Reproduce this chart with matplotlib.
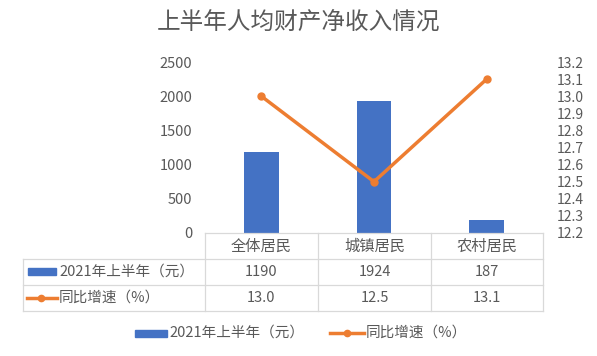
import matplotlib
matplotlib.use("Agg")
import matplotlib.pyplot as plt
from matplotlib.lines import Line2D
from matplotlib.patches import Rectangle

plt.rcParams['font.family'] = ['Noto Sans CJK SC', 'DejaVu Sans']

categories = ["全体居民", "城镇居民", "农村居民"]
income = [1190, 1924, 187]
growth = [13.0, 12.5, 13.1]
income_name = "2021年上半年（元）"
growth_name = "同比增速（%）"
title = "上半年人均财产净收入情况"

blue = "#4472c4"
orange = "#ed7d31"
gray = "#595959"
grid = "#d9d9d9"

W, H = 597, 356
fig = plt.figure(figsize=(W / 100, H / 100), dpi=100)

# plot area in pixel coords
x0, x1, ytop, ybot = 205, 543, 62, 233
ax = fig.add_axes([x0 / W, 1 - ybot / H, (x1 - x0) / W, (ybot - ytop) / H])
xs = list(range(len(categories)))
ax.bar(xs, income, width=0.31, color=blue, zorder=2)
ax.set_xlim(-0.5, len(categories) - 0.5)
ax.set_ylim(0, 2500)
ax.set_yticks(range(0, 2501, 500))
ax.set_xticks([])
for s in ax.spines.values():
    s.set_visible(False)
ax.tick_params(axis='y', length=0, labelsize=10.5, colors=gray, pad=9)

ax2 = ax.twinx()
ax2.plot(xs, growth, color=orange, lw=2.5, marker='o', ms=5, zorder=3)
ax2.set_ylim(12.2, 13.2)
ax2.set_yticks([12.2 + i * 0.1 for i in range(11)])
ax2.set_yticklabels([f"{12.2 + i * 0.1:.1f}" for i in range(11)])
for s in ax2.spines.values():
    s.set_visible(False)
ax2.tick_params(axis='y', length=0, labelsize=10, colors=gray, pad=10)

# overlay axes in pixel coordinates for title, table and legend
ov = fig.add_axes([0, 0, 1, 1])
ov.set_xlim(0, W)
ov.set_ylim(H, 0)
ov.axis('off')

ov.text(W / 2, 22, title, fontsize=17, color=gray, ha='center', va='center')

cols = [205, 318, 431, 543]
rows = [233, 259, 285, 311]
lk = dict(color=grid, lw=0.9)
ov.plot([cols[0], cols[-1]], [rows[0], rows[0]], **lk)
for y in rows[1:]:
    ov.plot([23, cols[-1]], [y, y], **lk)
for x in cols:
    ov.plot([x, x], [rows[0], rows[-1]], **lk)
ov.plot([23, 23], [rows[1], rows[-1]], **lk)

for i, c in enumerate(categories):
    cx = (cols[i] + cols[i + 1]) / 2
    ov.text(cx, (rows[0] + rows[1]) / 2, c, fontsize=11, color=gray, ha='center', va='center')
    ov.text(cx, (rows[1] + rows[2]) / 2, str(income[i]), fontsize=10.5, color=gray, ha='center', va='center')
    ov.text(cx, (rows[2] + rows[3]) / 2, f"{growth[i]:.1f}", fontsize=10.5, color=gray, ha='center', va='center')

# row legend keys
ov.add_patch(Rectangle((28, 268), 28, 7, color=blue))
ov.text(59, 271.5, income_name, fontsize=10.5, color=gray, ha='left', va='center')
ov.add_line(Line2D([27, 57], [297.5, 297.5], color=orange, lw=2.5))
ov.plot([41], [297.5], 'o', color=orange, ms=4.5)
ov.text(59, 297.5, growth_name, fontsize=10.5, color=gray, ha='left', va='center')

# bottom legend
ov.add_patch(Rectangle((135, 329.5), 32, 7, color=blue))
ov.text(169, 333, income_name, fontsize=10.5, color=gray, ha='left', va='center')
ov.add_line(Line2D([330, 364], [333, 333], color=orange, lw=2.5))
ov.plot([347], [333], 'o', color=orange, ms=4.5)
ov.text(366, 333, growth_name, fontsize=10.5, color=gray, ha='left', va='center')

fig.savefig("out.png", dpi=100)
